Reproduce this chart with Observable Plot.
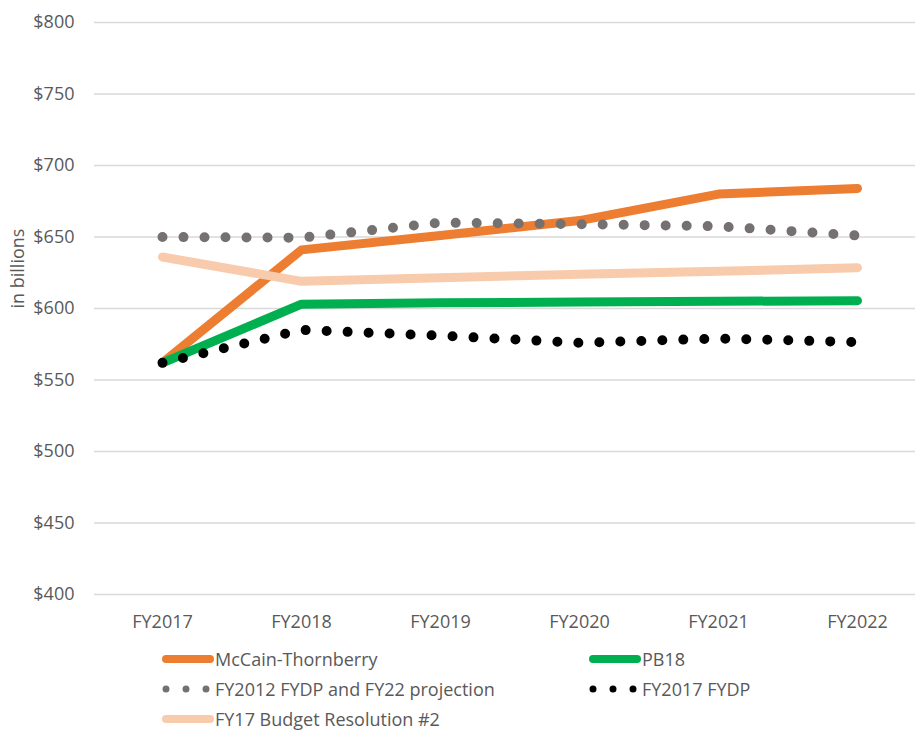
<!DOCTYPE html>
<html>
<head>
<meta charset="utf-8">
<script src="https://cdn.jsdelivr.net/npm/d3@7"></script>
<script src="https://cdn.jsdelivr.net/npm/@observablehq/plot@0.6"></script>
<style>
  html, body { margin: 0; padding: 0; background: #ffffff; }
  #wrap { position: relative; width: 915px; height: 730px; font-family: "Open Sans", Lato, sans-serif; color: #595959; }
  #legend { position: relative; width: 915px; height: 90px; }
  .item { position: absolute; display: flex; align-items: center; height: 20px; font-size: 18px; white-space: nowrap; }
  .item svg { display: block; margin-right: 1px; }
</style>
</head>
<body>
<div id="wrap">
  <div id="chart"></div>
  <div id="legend"></div>
</div>
<script>
const years = ["FY2017", "FY2018", "FY2019", "FY2020", "FY2021", "FY2022"];
const mccainThornberry = [562, 641, 651, 661.5, 680, 684];
const pb18 = [562, 603, 604, 604.5, 605, 605.5];
const fy2012Fydp = [650, 649.5, 660, 659, 657.5, 651];
const fy2017Fydp = [562, 585, 581, 576, 579, 576.5];
const budgetResolution2 = [636, 619, 621.5, 624, 626, 628.5];
const yTicks = [400, 450, 500, 550, 600, 650, 700, 750, 800];

const seriesNames = ["McCain-Thornberry", "PB18", "FY2012 FYDP and FY22 projection", "FY2017 FYDP", "FY17 Budget Resolution #2"];
const seriesValues = [mccainThornberry, pb18, fy2012Fydp, fy2017Fydp, budgetResolution2];
const seriesColors = ["#ED7D31", "#00B050", "#767171", "#000000", "#F8CBAD"];
const seriesDotted = [false, false, true, true, false];

function rows(i) {
  return years.map((y, j) => ({year: y, value: seriesValues[i][j], series: seriesNames[i]}));
}

const lineMarks = seriesNames.map((name, i) => Plot.line(rows(i), {
  x: "year", y: "value",
  stroke: seriesColors[i],
  strokeWidth: seriesDotted[i] ? 10 : 9,
  strokeLinecap: "round",
  strokeLinejoin: "round",
  strokeDasharray: seriesDotted[i] ? "0 21" : null
}));

const chart = Plot.plot({
  width: 915,
  height: 640,
  marginLeft: 94,
  marginRight: 0,
  marginTop: 22,
  marginBottom: 46,
  style: {fontFamily: "'Open Sans', Lato, sans-serif", fontSize: "18px", color: "#595959", background: "#ffffff", overflow: "visible"},
  x: {type: "point", domain: years, range: [162, 857], padding: 0, tickSize: 0, tickPadding: 21, label: null},
  y: {domain: [400, 800], ticks: yTicks, tickFormat: d => "$" + d, tickSize: 0, tickPadding: 20, label: null},
  marks: [
    Plot.ruleY(yTicks, {stroke: "#D9D9D9", strokeWidth: 1.3}),
    ...lineMarks,
    Plot.text(["in billions"], {text: d => d, frameAnchor: "left", dx: -76, rotate: -90, fill: "#595959", fontSize: 18})
  ]
});
document.getElementById("chart").appendChild(chart);

// Legend
const legend = document.getElementById("legend");
const positions = [
  {left: 161, top: 9},
  {left: 588, top: 9},
  {left: 161, top: 39},
  {left: 588, top: 39},
  {left: 161, top: 69}
];
seriesNames.forEach((name, i) => {
  const div = document.createElement("div");
  div.className = "item";
  div.style.left = positions[i].left + "px";
  div.style.top = positions[i].top + "px";
  const ns = "http://www.w3.org/2000/svg";
  const svg = document.createElementNS(ns, "svg");
  svg.setAttribute("width", 53);
  svg.setAttribute("height", 12);
  const line = document.createElementNS(ns, "line");
  line.setAttribute("y1", 6);
  line.setAttribute("y2", 6);
  line.setAttribute("x1", 5);
  line.setAttribute("stroke", seriesColors[i]);
  line.setAttribute("stroke-linecap", "round");
  if (seriesDotted[i]) {
    line.setAttribute("x2", 45.5);
    line.setAttribute("stroke-width", 7);
    line.setAttribute("stroke-dasharray", "0 20");
  } else {
    line.setAttribute("x2", 49);
    line.setAttribute("stroke-width", 8);
  }
  svg.appendChild(line);
  div.appendChild(svg);
  const span = document.createElement("span");
  span.textContent = name;
  div.appendChild(span);
  legend.appendChild(div);
});
</script>
</body>
</html>
